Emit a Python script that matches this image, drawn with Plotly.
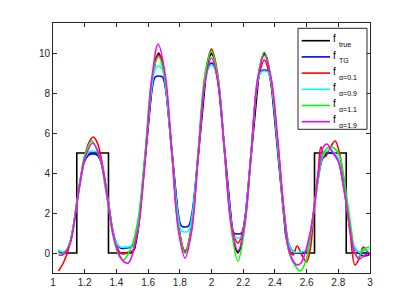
import plotly.graph_objects as go

# ---- data ----
x_true = [1.04, 1.15, 1.15, 1.35, 1.35,
          1.5, 1.5167, 1.5333, 1.55, 1.5667, 1.5833, 1.6, 1.6167, 1.6333, 1.65,
          1.6667, 1.6833, 1.7, 1.7167, 1.7333, 1.75, 1.7667, 1.7833, 1.8, 1.8167,
          1.8333, 1.85, 1.8667, 1.8833, 1.9, 1.9167, 1.9333, 1.95, 1.9667, 1.9833,
          2.0, 2.0167, 2.0333, 2.05, 2.0667, 2.0833, 2.1, 2.1167, 2.1333, 2.15,
          2.1667, 2.1833, 2.2, 2.2167, 2.2333, 2.25, 2.2667, 2.2833, 2.3, 2.3167,
          2.3333, 2.35, 2.3667, 2.3833, 2.4, 2.4167, 2.4333, 2.45, 2.4667, 2.4833,
          2.5,
          2.65, 2.65, 2.85, 2.85, 2.995]
y_true = [0, 0, 5, 5, 0,
          0, 0.245, 0.955, 2.061, 3.455, 5.0, 6.545, 7.939, 9.045, 9.755,
          10, 9.755, 9.045, 7.939, 6.545, 5.0, 3.455, 2.061, 0.955, 0.245,
          0, 0.245, 0.955, 2.061, 3.455, 5.0, 6.545, 7.939, 9.045, 9.755,
          10, 9.755, 9.045, 7.939, 6.545, 5.0, 3.455, 2.061, 0.955, 0.245,
          0, 0.245, 0.955, 2.061, 3.455, 5.0, 6.545, 7.939, 9.045, 9.755,
          10, 9.755, 9.045, 7.939, 6.545, 5.0, 3.455, 2.061, 0.955, 0.245,
          0,
          0, 5, 5, 0, 0]

x_tg = [1.035, 1.06, 1.085, 1.11, 1.13, 1.15, 1.175, 1.20, 1.225, 1.25, 1.28, 1.30,
        1.325, 1.35, 1.375, 1.40, 1.425, 1.46, 1.495, 1.52, 1.5417, 1.5833, 1.625,
        1.645, 1.6667, 1.69, 1.7083, 1.75, 1.7917, 1.81, 1.8333, 1.855, 1.875,
        1.9167, 1.9583, 1.985, 2.0, 2.015, 2.0417, 2.0833, 2.125, 2.14, 2.1667,
        2.19, 2.2083, 2.25, 2.2917, 2.315, 2.3333, 2.355, 2.375, 2.4167, 2.4583,
        2.49, 2.52, 2.56, 2.60, 2.625, 2.65, 2.675, 2.70, 2.725, 2.76, 2.80, 2.825,
        2.85, 2.875, 2.90, 2.93, 2.96, 2.995]
y_tg = [0.1, 0.0, 0.1, 0.6, 1.4, 2.5, 3.7, 4.6, 4.9, 4.95, 4.9, 4.6,
        3.7, 2.5, 1.2, 0.5, 0.25, 0.25, 0.3, 0.8, 1.7, 5.0, 8.2,
        8.8, 8.85, 8.8, 8.3, 5.0, 1.9, 1.35, 1.3, 1.35, 1.9,
        5.0, 8.6, 9.4, 9.5, 9.4, 8.6, 5.0, 1.6, 1.0, 0.95,
        1.0, 1.6, 5.0, 8.6, 9.1, 9.15, 9.1, 8.6, 5.4, 2.0,
        0.4, 0.05, 0.0, 0.1, 1.0, 2.4, 3.8, 4.7, 4.95, 5.0, 4.6, 3.7,
        2.5, 1.2, 0.3, 0.0, -0.15, -0.1]

x_a09 = x_tg
y_a09 = [0.15, 0.05, 0.15, 0.6, 1.4, 2.5, 3.7, 4.7, 5.05, 5.1, 5.05, 4.7,
         3.7, 2.5, 1.2, 0.5, 0.3, 0.3, 0.35, 0.8, 1.6, 5.0, 8.4,
         9.2, 9.35, 9.2, 8.5, 5.0, 1.7, 1.1, 1.05, 1.1, 1.7,
         5.0, 8.6, 9.3, 9.4, 9.3, 8.6, 5.0, 1.5, 0.8, 0.75,
         0.8, 1.5, 5.0, 8.6, 9.05, 9.1, 9.05, 8.6, 5.4, 2.0,
         0.4, 0.05, 0.05, 0.15, 1.0, 2.4, 3.8, 4.8, 5.1, 5.1, 4.7, 3.7,
         2.5, 1.2, 0.35, 0.05, 0.1, 0.2]

x_a01 = [1.035, 1.065, 1.09, 1.11, 1.13, 1.15, 1.175, 1.20, 1.225, 1.255, 1.28, 1.30,
         1.325, 1.35, 1.375, 1.40, 1.425, 1.45, 1.475, 1.50, 1.52, 1.5417, 1.5833,
         1.625, 1.65, 1.6667, 1.685, 1.7083, 1.75, 1.7917, 1.8333, 1.875, 1.9167,
         1.9583, 1.985, 2.0, 2.015, 2.0417, 2.0833, 2.125, 2.1667, 2.2083, 2.25,
         2.2917, 2.3333, 2.375, 2.4167, 2.4583, 2.49, 2.515, 2.54, 2.57, 2.60,
         2.625, 2.65, 2.675, 2.69, 2.715, 2.745, 2.78, 2.81, 2.83, 2.85, 2.875,
         2.905, 2.93, 2.958, 2.98, 2.995]
y_a01 = [-0.9, -0.5, 0.0, 0.6, 1.4, 2.5, 3.8, 4.8, 5.5, 5.8, 5.5, 4.9,
         3.8, 2.5, 1.2, 0.4, 0.0, -0.05, 0.05, 0.1, 0.5, 1.5, 5.0,
         8.6, 9.7, 9.9, 9.7, 8.5, 5.0, 1.3, 0.1, 1.3, 5.0,
         8.8, 9.9, 10.2, 9.9, 8.8, 5.0, 1.5, 0.5, 1.5, 5.0,
         8.5, 9.65, 8.5, 5.6, 2.0, 0.2, -0.1, 0.35, -0.1, -0.45,
         0.3, 2.5, 4.2, 5.3, 4.8, 5.2, 5.6, 4.9, 3.8, 2.5, 1.0,
         -0.6, -0.3, 0.3, 0.1, -0.1]

x_a11 = [1.035, 1.06, 1.085, 1.11, 1.13, 1.15, 1.175, 1.20, 1.245, 1.29, 1.31, 1.325,
         1.35, 1.375, 1.40, 1.42, 1.445, 1.47, 1.50, 1.52, 1.5417, 1.5833, 1.625,
         1.6667, 1.7083, 1.75, 1.7917, 1.8333, 1.875, 1.9167, 1.9583, 2.0, 2.0417,
         2.0833, 2.125, 2.1667, 2.2083, 2.25, 2.2917, 2.3333, 2.375, 2.4167, 2.4583,
         2.49, 2.525, 2.56, 2.595, 2.625, 2.65, 2.675, 2.70, 2.74, 2.78, 2.81,
         2.835, 2.86, 2.885, 2.90, 2.925, 2.96, 2.995]
y_a11 = [0.0, -0.05, 0.15, 0.6, 1.4, 2.5, 3.8, 4.9, 5.6, 4.9, 4.3, 3.5,
         2.3, 1.0, 0.2, -0.2, -0.35, -0.1, 0.4, 1.0, 1.9, 5.2, 8.8,
         9.8, 8.6, 5.0, 1.3, 0.0, 1.3, 5.2, 8.9, 10.1, 8.7,
         4.9, 1.2, -0.4, 1.2, 5.0, 8.8, 10.05, 8.7, 5.6, 1.8,
         0.0, -0.6, -0.9, -0.4, 0.9, 2.4, 3.9, 4.9, 5.3, 5.2, 4.8,
         3.8, 2.4, 1.0, 0.1, -0.2, 0.2, 0.3]

x_a19 = [1.035, 1.06, 1.085, 1.11, 1.13, 1.15, 1.175, 1.20, 1.25, 1.30, 1.325, 1.35,
         1.375, 1.40, 1.425, 1.45, 1.475, 1.50, 1.525, 1.5417, 1.5833, 1.625, 1.6633,
         1.7083, 1.75, 1.7917, 1.8333, 1.875, 1.9167, 1.9583, 2.0, 2.0417, 2.0833,
         2.125, 2.1667, 2.2083, 2.25, 2.2917, 2.3333, 2.375, 2.4167, 2.4583, 2.49,
         2.515, 2.54, 2.565, 2.59, 2.625, 2.65, 2.675, 2.70, 2.727, 2.76, 2.80,
         2.825, 2.85, 2.875, 2.90, 2.93, 2.96, 2.995]
y_a19 = [-0.1, -0.1, 0.1, 0.5, 1.3, 2.4, 3.7, 4.7, 5.5, 4.7, 3.7, 2.4,
         1.1, 0.3, -0.2, -0.45, -0.5, -0.1, 0.8, 1.4, 4.8, 8.8, 10.45,
         8.9, 5.0, 1.1, -0.25, 1.1, 4.9, 8.5, 9.75, 8.5, 5.0,
         1.4, 0.1, 1.4, 5.0, 8.7, 9.9, 8.8, 5.8, 2.0, 0.1,
         -0.4, -0.6, -0.5, 0.0, 1.1, 2.4, 4.0, 5.2, 5.45, 5.1, 4.6,
         3.7, 2.5, 1.1, 0.1, -0.3, -0.15, 0.05]

x_ticks = [1, 1.2, 1.4, 1.6, 1.8, 2, 2.2, 2.4, 2.6, 2.8, 3]
x_tick_labels = ["1", "1.2", "1.4", "1.6", "1.8", "2", "2.2", "2.4", "2.6", "2.8", "3"]
y_ticks = [0, 2, 4, 6, 8, 10]
y_tick_labels = ["0", "2", "4", "6", "8", "10"]

legend_main = ["f", "f", "f", "f", "f", "f"]
legend_subs = ["true", "TG", "α=0.1", "α=0.9", "α=1.1", "α=1.9"]
colors = ["#000000", "#0000ff", "#ff0000", "#00ffff", "#00ff00", "#ff00ff"]

series = [
    (x_true, y_true, "linear"),
    (x_tg, y_tg, "spline"),
    (x_a01, y_a01, "spline"),
    (x_a09, y_a09, "spline"),
    (x_a11, y_a11, "spline"),
    (x_a19, y_a19, "spline"),
]

FONT = "Liberation Sans, Arial, sans-serif"

fig = go.Figure()
for (xs, ys, shape), color, main, sub in zip(series, colors, legend_main, legend_subs):
    fig.add_trace(go.Scatter(
        x=xs, y=ys, mode="lines", name=f"{main} {sub}",
        line=dict(color=color, width=1.6, shape=shape,
                  smoothing=1.0 if shape == "spline" else None),
        hoverinfo="skip", showlegend=False,
    ))

axis_common = dict(
    showline=True, linecolor="#262626", linewidth=1, mirror="ticks",
    ticks="inside", ticklen=4, tickcolor="#262626", tickwidth=1,
    showgrid=False, zeroline=False,
    tickfont=dict(family=FONT, size=10, color="#262626"),
)
fig.update_xaxes(range=[1, 3], tickvals=x_ticks, ticktext=x_tick_labels, **axis_common)
fig.update_yaxes(range=[-1, 11.5], tickvals=y_ticks, ticktext=y_tick_labels, **axis_common)

# ---- custom legend box (paper coordinates of the plot area) ----
shapes = [dict(type="rect", xref="paper", yref="paper",
               x0=0.7729, x1=0.9905, y0=0.5748, y1=0.9788,
               line=dict(color="#262626", width=1), fillcolor="white", layer="above")]
annotations = []
row_top = 0.9292
row_step = 0.0648
for i, (color, main, sub) in enumerate(zip(colors, legend_main, legend_subs)):
    yc = row_top - i * row_step
    shapes.append(dict(type="line", xref="paper", yref="paper",
                       x0=0.7845, x1=0.8738, y0=yc, y1=yc,
                       line=dict(color=color, width=1.6), layer="above"))
    annotations.append(dict(xref="paper", yref="paper", x=0.8795, y=yc + 0.007,
                            xanchor="left", yanchor="middle", text=main, showarrow=False,
                            font=dict(family=FONT, size=10, color="#000000"), borderpad=0))
    annotations.append(dict(xref="paper", yref="paper", x=0.8985, y=yc - 0.016,
                            xanchor="left", yanchor="middle", text=sub, showarrow=False,
                            font=dict(family=FONT, size=7, color="#000000"), borderpad=0))

# page body adds an 8px offset, so the figure is 8px smaller and margins shifted
fig.update_layout(
    width=401, height=299,
    margin=dict(l=45, r=39, t=15, b=34),
    paper_bgcolor="white", plot_bgcolor="white",
    font=dict(family=FONT, size=10, color="#000000"),
    showlegend=False,
    shapes=shapes, annotations=annotations,
    hovermode=False,
)

fig.write_html("out.html", config={"displayModeBar": False, "staticPlot": True})
